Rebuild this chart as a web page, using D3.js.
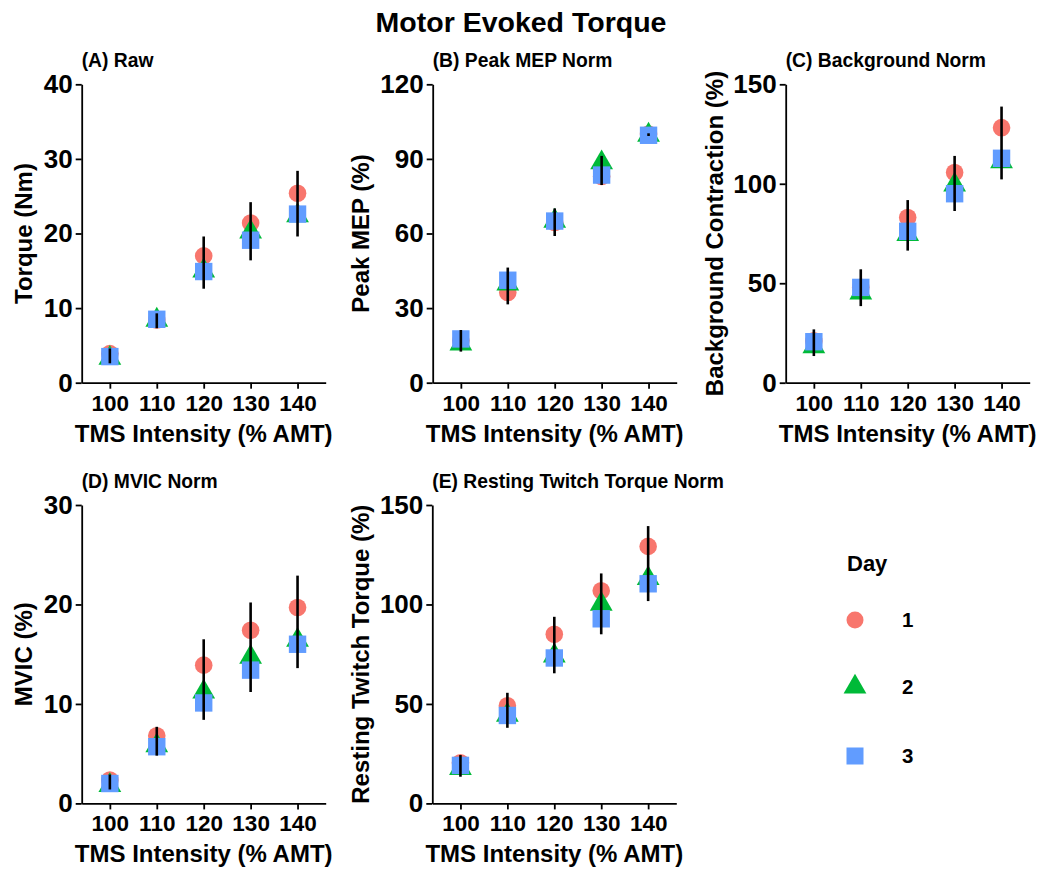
<!DOCTYPE html>
<html>
<head>
<meta charset="utf-8">
<script src="https://cdn.jsdelivr.net/npm/d3@7"></script>
<style>
  body { margin: 0; background: #fff; }
  svg text { font-family: "Liberation Sans", Arial, Helvetica, sans-serif; font-weight: bold; fill: #000; }
  .axis path, .axis line { stroke: #000; stroke-width: 1.8px; }
</style>
</head>
<body>
<svg id="chart" width="1041" height="869"></svg>
<script>
const intensity = ["100", "110", "120", "130", "140"];
const dayLabels = ["1", "2", "3"];

// (A) Raw
const rawDay1 = [3.9, 8.4, 17.0, 21.4, 25.4];
const rawDay2 = [3.3, 8.4, 15.0, 20.2, 22.4];
const rawDay3 = [3.5, 8.5, 14.9, 19.1, 22.6];
const rawErrLow = [2.6, 7.3, 12.6, 16.4, 19.6];
const rawErrHigh = [4.6, 9.3, 19.6, 24.2, 28.4];
const rawTicks = [0, 10, 20, 30, 40];

// (B) Peak MEP Norm
const mepDay1 = [17.0, 36.3, 64.4, 82.9, 100.0];
const mepDay2 = [15.6, 39.7, 65.0, 88.5, 99.6];
const mepDay3 = [17.6, 41.2, 65.0, 83.5, 99.5];
const mepErrLow = [12.5, 31.5, 59.0, 79.5, 99.2];
const mepErrHigh = [21.2, 46.3, 70.1, 91.2, 100.3];
const mepTicks = [0, 30, 60, 90, 120];

// (C) Background Norm
const bgDay1 = [21.0, 48.0, 83.0, 105.7, 128.2];
const bgDay2 = [18.1, 45.2, 74.6, 99.4, 111.1];
const bgDay3 = [20.6, 47.9, 76.1, 95.0, 112.8];
const bgErrLow = [13.4, 38.5, 66.4, 86.3, 102.2];
const bgErrHigh = [26.8, 57.0, 91.8, 114.0, 138.8];
const bgTicks = [0, 50, 100, 150];

// (D) MVIC Norm
const mvicDay1 = [2.35, 6.8, 13.9, 17.4, 19.7];
const mvicDay2 = [1.8, 5.8, 11.2, 14.7, 16.4];
const mvicDay3 = [2.0, 5.7, 10.1, 13.4, 16.0];
const mvicErrLow = [1.4, 4.8, 8.4, 11.2, 13.6];
const mvicErrHigh = [2.9, 7.7, 16.5, 20.2, 22.9];
const mvicTicks = [0, 10, 20, 30];

// (E) Resting Twitch Torque Norm
const rttDay1 = [20.4, 49.1, 85.0, 106.9, 129.2];
const rttDay2 = [17.6, 44.4, 74.2, 100.2, 113.1];
const rttDay3 = [19.1, 44.2, 73.1, 92.8, 110.4];
const rttErrLow = [13.4, 38.0, 65.4, 85.0, 101.7];
const rttErrHigh = [24.3, 55.6, 93.8, 115.6, 139.4];
const rttTicks = [0, 50, 100, 150];

const colors = ["#F8766D", "#00BA38", "#619CFF"];

const svg = d3.select("#chart");

// triangle like R pch 17, centred on the data point
const triPath = "M0,-13.2L11.4,6.6L-11.4,6.6Z";

const panels = [
    {title: "(A) Raw", ylab: "Torque (Nm)", days: [rawDay1, rawDay2, rawDay3], lo: rawErrLow, hi: rawErrHigh, ticks: rawTicks,
     left: 81.7, top: 84.3, yTitleX: 32},
    {title: "(B) Peak MEP Norm", ylab: "Peak MEP (%)", days: [mepDay1, mepDay2, mepDay3], lo: mepErrLow, hi: mepErrHigh, ticks: mepTicks,
     left: 432.7, top: 84.3, yTitleX: 369},
    {title: "(C) Background Norm", ylab: "Background Contraction (%)", days: [bgDay1, bgDay2, bgDay3], lo: bgErrLow, hi: bgErrHigh, ticks: bgTicks,
     left: 785.7, top: 84.3, yTitleX: 723},
    {title: "(D) MVIC Norm", ylab: "MVIC (%)", days: [mvicDay1, mvicDay2, mvicDay3], lo: mvicErrLow, hi: mvicErrHigh, ticks: mvicTicks,
     left: 81.7, top: 505, yTitleX: 32},
    {title: "(E) Resting Twitch Torque Norm", ylab: "Resting Twitch Torque (%)", days: [rttDay1, rttDay2, rttDay3], lo: rttErrLow, hi: rttErrHigh, ticks: rttTicks,
     left: 432.3, top: 505, yTitleX: 369}
];

const plotW = 244;
const plotH = 298.4;

svg.append("text")
    .attr("x", 521)
    .attr("y", 32)
    .attr("text-anchor", "middle")
    .style("font-size", "28.5px")
    .text("Motor Evoked Torque");

panels.forEach(drawPanel);
drawLegend();

function drawPanel(p) {
    const g = svg.append("g").attr("transform", `translate(${p.left},${p.top})`);

    const x = d3.scalePoint().domain(intensity).range([0, plotW]).padding(0.6);
    const y = d3.scaleLinear().domain([0, p.ticks[p.ticks.length - 1]]).range([plotH, 0]);

    // panel title
    g.append("text")
        .attr("x", 0)
        .attr("y", -17)
        .style("font-size", "19.3px")
        .text(p.title);

    // points: day 1 circles, day 2 triangles, day 3 squares
    g.append("g").selectAll("circle")
        .data(p.days[0])
        .join("circle")
        .attr("cx", (d, i) => x(intensity[i]))
        .attr("cy", d => y(d))
        .attr("r", 8.8)
        .attr("fill", colors[0]);

    g.append("g").selectAll("path")
        .data(p.days[1])
        .join("path")
        .attr("d", triPath)
        .attr("transform", (d, i) => `translate(${x(intensity[i])},${y(d)})`)
        .attr("fill", colors[1]);

    g.append("g").selectAll("rect")
        .data(p.days[2])
        .join("rect")
        .attr("x", (d, i) => x(intensity[i]) - 8.7)
        .attr("y", d => y(d) - 8.7)
        .attr("width", 17.4)
        .attr("height", 17.4)
        .attr("fill", colors[2]);

    // error bars
    g.append("g").selectAll("line")
        .data(intensity)
        .join("line")
        .attr("x1", d => x(d))
        .attr("x2", d => x(d))
        .attr("y1", (d, i) => y(p.lo[i]))
        .attr("y2", (d, i) => y(p.hi[i]))
        .attr("stroke", "#000")
        .attr("stroke-width", 2.6);

    // axes
    const yAxis = g.append("g")
        .attr("class", "axis")
        .call(d3.axisLeft(y).tickValues(p.ticks).tickSize(6).tickSizeOuter(0).tickPadding(3));
    yAxis.selectAll("text").style("font-size", "26px");

    const xAxis = g.append("g")
        .attr("class", "axis")
        .attr("transform", `translate(0,${plotH})`)
        .call(d3.axisBottom(x).tickSize(6).tickSizeOuter(0).tickPadding(6));
    xAxis.selectAll("text").style("font-size", "22.5px");

    // axis titles
    g.append("text")
        .attr("x", plotW / 2)
        .attr("y", plotH + 59)
        .attr("text-anchor", "middle")
        .style("font-size", "24px")
        .text("TMS Intensity (% AMT)");

    svg.append("text")
        .attr("transform", `translate(${p.yTitleX},${p.top + plotH / 2}) rotate(-90)`)
        .attr("text-anchor", "middle")
        .style("font-size", "24px")
        .text(p.ylab);
}

function drawLegend() {
    const lg = svg.append("g");
    lg.append("text").attr("x", 847).attr("y", 571).style("font-size", "22px").text("Day");

    const rows = [620, 687, 756];
    lg.append("circle").attr("cx", 855).attr("cy", rows[0]).attr("r", 8.5).attr("fill", colors[0]);
    lg.append("path").attr("d", triPath).attr("transform", `translate(855,${rows[1]})`).attr("fill", colors[1]);
    lg.append("rect").attr("x", 855 - 8.5).attr("y", rows[2] - 8.5).attr("width", 17).attr("height", 17).attr("fill", colors[2]);

    lg.selectAll("text.lab")
        .data(dayLabels)
        .join("text")
        .attr("class", "lab")
        .attr("x", 902)
        .attr("y", (d, i) => rows[i] + 7)
        .style("font-size", "20.5px")
        .text(d => d);
}
</script>
</body>
</html>
